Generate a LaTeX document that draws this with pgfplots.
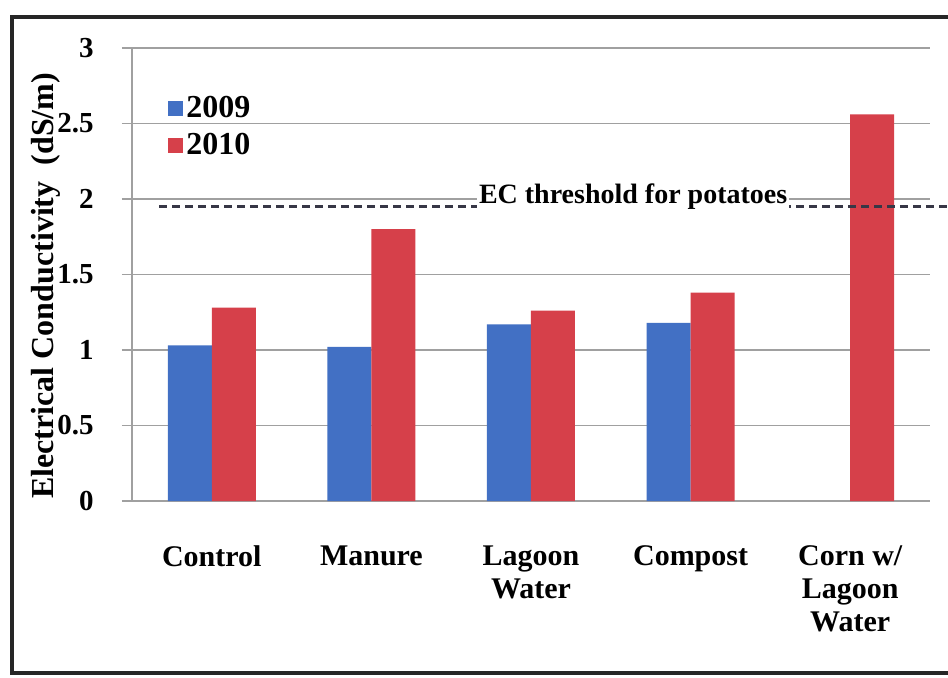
\documentclass[border=0pt]{standalone}
\usepackage{fontspec}
\setmainfont{Liberation Serif}
\usepackage{pgfplots}
\pgfplotsset{compat=1.18}
\definecolor{barblue}{RGB}{66,112,196}
\definecolor{barred}{RGB}{214,64,74}
\definecolor{gridgray}{RGB}{160,160,160}
\definecolor{dashgray}{RGB}{55,55,70}
\begin{document}
\begin{tikzpicture}
\useasboundingbox (-66pt,-88pt) rectangle (408pt,250.5pt);
\clip (-66pt,-88pt) rectangle (408pt,250.5pt);
\fill[white] (-66pt,-88pt) rectangle (408pt,250.5pt);
\draw[line width=2pt,black!85] (420pt,242pt) -- (-60pt,242pt) -- (-60pt,-86pt) -- (420pt,-86pt);
\begin{axis}[
  at={(0pt,0pt)}, anchor=south west,
  scale only axis, width=399pt, height=226.5pt,
  ybar=0pt, bar width=22pt,
  xmin=-0.5, xmax=4.5, ymin=0, ymax=3,
  xtick={0,1,2,3,4},
  xticklabels={Control, Manure, {Lagoon\\Water}, Compost, {Corn w/\\Lagoon\\Water}},
  ytick={0,0.5,1,1.5,2,2.5,3},
  yticklabels={0,0.5,1,1.5,2,2.5,3},
  axis x line*=bottom, axis y line*=left,
  axis line style={gridgray, line width=0.8pt},
  x axis line style={draw=none},
  ymajorgrids, grid style={gridgray, line width=0.8pt},
  tick align=outside, major tick length=5pt,
  xtick style={draw=none},
  ytick style={gridgray, line width=0.8pt},
  /pgf/number format/assume math mode=true,
  y tick label style={font=\fontsize{14.5}{16}\selectfont\bfseries, anchor=east, inner sep=0pt, xshift=-14pt},
  x tick label style={font=\fontsize{15}{16.5}\selectfont\bfseries, align=center, anchor=north, inner sep=0pt, yshift=-17pt},
  ylabel={Electrical Conductivity~~(dS/m)},
  every axis y label/.style={at={(axis description cs:-0.108,0.475)}, rotate=90, anchor=center, font=\fontsize{16}{17}\selectfont\bfseries},
  legend style={at={(axis description cs:0.045,0.9)}, anchor=north west, draw=none, fill=none,
    font=\fontsize{16}{17}\selectfont\bfseries, row sep=3pt, inner sep=0pt,
    nodes={inner sep=1.5pt}},
  legend image code/.code={\fill[#1] (0pt,-3.75pt) rectangle (7.5pt,3.75pt);},
  legend cell align=left,
  clip=false,
]
\addplot[fill=barblue, draw=none] coordinates {(0,1.03) (1,1.02) (2,1.17) (3,1.18)};
\addplot[fill=barred, draw=none] coordinates {(0,1.28) (1,1.80) (2,1.26) (3,1.38) (4,2.56)};
\legend{2009,2010}
\draw[dashgray, line width=1.2pt, dash pattern=on 4pt off 2.5pt] (axis cs:-0.33,1.95) -- (axis cs:5.2,1.95);
\node[anchor=base, fill=white, inner sep=1pt, font=\fontsize{14}{15}\selectfont\bfseries] at (axis cs:2.64,1.97) {EC threshold for potatoes};
\end{axis}
\end{tikzpicture}
\end{document}
